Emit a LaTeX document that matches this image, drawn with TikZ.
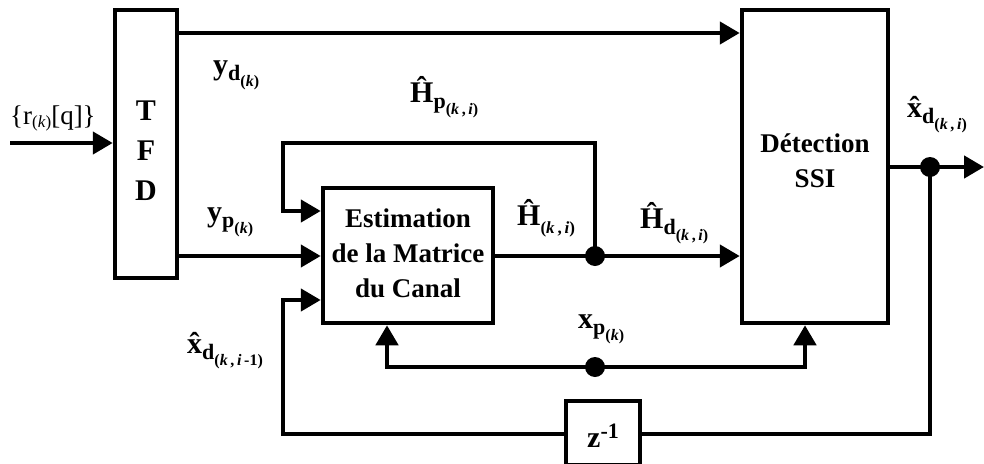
\documentclass[tikz,border=0pt]{standalone}
\usepackage{fontspec}
\setmainfont{Liberation Serif}
\usetikzlibrary{arrows.meta}
\newcommand{\sigl}[3]{\textbf{#1}\raisebox{-6pt}{\fontsize{22}{22}\selectfont\textbf{#2}\raisebox{-6pt}{\fontsize{16}{16}\selectfont\textbf{#3}}}}
\newcommand{\sigo}[2]{\textbf{#1}\raisebox{-8pt}{\fontsize{17}{17}\selectfont\textbf{#2}}}
\newcommand{\hx}{\accent"02C6 x}
\tikzset{
  wire/.style={line width=4.5pt},
  arr/.style={wire,-{Triangle[length=20pt,width=22pt]}},
  box/.style={draw,line width=4.5pt,inner sep=0pt,fill=white},
  boxtxt/.style={font=\fontsize{27}{35}\selectfont\bfseries,align=center,inner sep=0pt},
  lab/.style={anchor=base west,inner sep=0pt,font=\fontsize{30}{30}\selectfont},
  dot/.style={fill=black}
}
\begin{document}
\begin{tikzpicture}[x=1pt,y=-1pt]
\useasboundingbox (0,0) rectangle (984,463);
% boxes
\node[box,minimum width=62pt,minimum height=268pt] (tfd) at (146,144) {};
\node[boxtxt,font=\fontsize{30}{40}\selectfont\bfseries] at (146,151) {T\\F\\D};
\node[box,minimum width=146pt,minimum height=313pt] (det) at (815,166.5) {};
\node[boxtxt] at (815,161) {Détection\\SSI};
\node[box,minimum width=170pt,minimum height=135pt] (est) at (408,255.5) {};
\node[boxtxt] at (408,253) {Estimation\\de la Matrice\\du Canal};
\node[box,minimum width=74pt,minimum height=64pt] (zb) at (603,433) {};
\node[inner sep=0pt,font=\fontsize{30}{30}\selectfont\bfseries] at (603,436) {z\raisebox{9pt}{\fontsize{22}{22}\selectfont -1}};
% coordinates
\coordinate (r0) at (10,143);
\coordinate (d0) at (177,33);
\coordinate (p0) at (177,256);
\coordinate (hj) at (595,256);
\coordinate (fbt) at (283,143);
\coordinate (fbin) at (283,211);
\coordinate (xl) at (387,367);
\coordinate (xj) at (595,367);
\coordinate (xr) at (805,367);
\coordinate (oj) at (930,167);
\coordinate (oend) at (984,167);
\coordinate (zr) at (930,434);
\coordinate (zl) at (283,434);
\coordinate (zin) at (283,300);
% connectors
\draw[arr] (r0) -- (r0 -| tfd.west);
\draw[arr] (d0) -- (d0 -| det.west);
\draw[arr] (p0) -- (p0 -| est.west);
\draw[arr] (est.east |- hj) -- (hj -| det.west);
\draw[arr] (hj) |- (fbt) -- (fbin) -- (fbin -| est.west);
\draw[wire,{Triangle[length=20pt,width=22pt]}-{Triangle[length=20pt,width=22pt]}] (xl |- est.south) -- (xl) -- (xr) -- (xr |- det.south);
\draw[arr] (det.east |- oj) -- (oend);
\draw[wire] (oj) -- (zr) -- (zr -| zb.east);
\draw[arr] (zr -| zb.west) -- (zl) -- (zin) -- (zin -| est.west);
\fill[dot] (hj) circle (10);
\fill[dot] (xj) circle (10);
\fill[dot] (oj) circle (10);
% labels
\node[lab,font=\fontsize{27}{27}\selectfont] (lr) at (10,124) {\{r\raisebox{-3pt}{\fontsize{17}{17}\selectfont(\textit{k})}[q]\}};
\node[lab] (lyd) at (213,74) {\sigl{y}{d}{(\textit{k})}};
\node[lab] (lyp) at (207,221) {\sigl{y}{p}{(\textit{k})}};
\node[lab] (lhp) at (410,102) {\sigl{\^{H}}{p}{(\textit{k}\,,\,\textit{i})}};
\node[lab] (lh) at (517,225) {\sigo{\^{H}}{(\textit{k}\,,\,\textit{i})}};
\node[lab] (lhd) at (640,228) {\sigl{\^{H}}{d}{(\textit{k}\,,\,\textit{i})}};
\node[lab] (lxd) at (907,117) {\sigl{\hx}{d}{(\textit{k}\,,\,\textit{i})}};
\node[lab] (lxp) at (578,328) {\sigl{x}{p}{(\textit{k})}};
\node[lab] (lxd1) at (187,353) {\sigl{\hx}{d}{(\textit{k}\,,\,\textit{i}\,-1)}};
\end{tikzpicture}
\end{document}
